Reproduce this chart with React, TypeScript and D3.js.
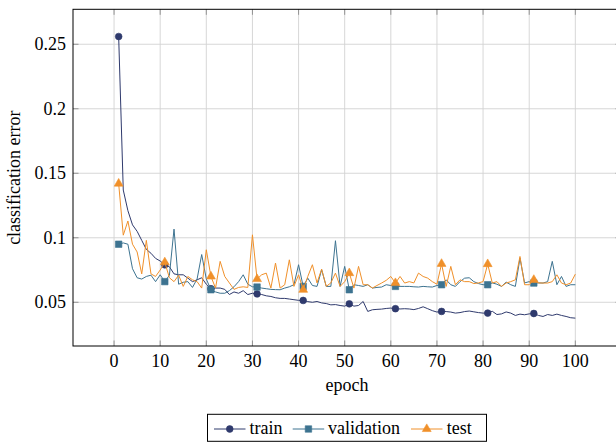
import React from 'react';
import * as d3 from 'd3';

const epochs = d3.range(1, 101);

const train = [
  0.256, 0.137, 0.121, 0.110, 0.105, 0.098, 0.091, 0.088, 0.084, 0.082,
  0.079, 0.0775, 0.072, 0.0713, 0.0713, 0.0687, 0.066, 0.0674, 0.069, 0.064,
  0.0605, 0.061, 0.061, 0.060, 0.056, 0.058, 0.057, 0.059, 0.056, 0.057,
  0.0565, 0.056, 0.055, 0.0545, 0.0535, 0.053, 0.053, 0.0525, 0.052, 0.0515,
  0.0514, 0.0505, 0.050, 0.0506, 0.0495, 0.049, 0.048, 0.0482, 0.0475, 0.047,
  0.0488, 0.047, 0.0475, 0.0506, 0.0429, 0.0442, 0.0445, 0.0447, 0.0452, 0.0455,
  0.045, 0.0448, 0.045, 0.0448, 0.0443, 0.0452, 0.0465, 0.045, 0.0435, 0.0424,
  0.0429, 0.0428, 0.0424, 0.0416, 0.042, 0.0428, 0.0432, 0.0426, 0.042, 0.0416,
  0.0416, 0.043, 0.0405, 0.041, 0.0425, 0.0416, 0.0398, 0.0408, 0.0403, 0.041,
  0.0413, 0.0398, 0.039, 0.0405, 0.0398, 0.0408, 0.0398, 0.039, 0.038, 0.0377,
];

const validation = [
  0.095, 0.096, 0.095, 0.076, 0.069, 0.068, 0.070, 0.071, 0.066, 0.0713,
  0.066, 0.071, 0.1067, 0.064, 0.0655, 0.066, 0.0615, 0.068, 0.087, 0.068,
  0.0597, 0.058, 0.057, 0.057, 0.059, 0.062, 0.066, 0.0713, 0.064, 0.062,
  0.0618, 0.061, 0.0605, 0.060, 0.0598, 0.0597, 0.061, 0.062, 0.0636, 0.0791,
  0.0623, 0.0687, 0.063, 0.0623, 0.0752, 0.0623, 0.0623, 0.0977, 0.0623, 0.0778,
  0.0597, 0.0636, 0.063, 0.0623, 0.0636, 0.061, 0.0615, 0.0618, 0.0636, 0.063,
  0.0623, 0.0623, 0.0623, 0.0623, 0.062, 0.0618, 0.0623, 0.062, 0.0618, 0.063,
  0.0636, 0.0674, 0.0636, 0.0623, 0.066, 0.0687, 0.069, 0.066, 0.0645, 0.0636,
  0.0636, 0.065, 0.064, 0.0623, 0.0656, 0.0636, 0.0623, 0.0842, 0.065, 0.066,
  0.0649, 0.065, 0.0649, 0.066, 0.0817, 0.0636, 0.070, 0.0623, 0.0636, 0.0636,
];

const test = [
  0.142, 0.102, 0.113, 0.095, 0.089, 0.072, 0.098, 0.072, 0.070, 0.075,
  0.081, 0.069, 0.066, 0.071, 0.0623, 0.070, 0.0674, 0.066, 0.061, 0.0907,
  0.070, 0.061, 0.0817, 0.070, 0.065, 0.060, 0.0615, 0.062, 0.0615, 0.1023,
  0.068, 0.0713, 0.0726, 0.061, 0.0804, 0.061, 0.0636, 0.0829, 0.0623, 0.0713,
  0.0597, 0.070, 0.0791, 0.065, 0.0757, 0.0623, 0.065, 0.0726, 0.0623, 0.066,
  0.0726, 0.061, 0.0778, 0.0636, 0.0636, 0.061, 0.063, 0.0649, 0.067, 0.070,
  0.0649, 0.070, 0.0649, 0.066, 0.065, 0.0726, 0.070, 0.0687, 0.066, 0.064,
  0.0798, 0.0623, 0.0778, 0.0636, 0.0674, 0.066, 0.066, 0.0645, 0.065, 0.066,
  0.0796, 0.0649, 0.066, 0.0623, 0.0649, 0.066, 0.0674, 0.0855, 0.0636, 0.0636,
  0.0674, 0.065, 0.0649, 0.0649, 0.066, 0.0713, 0.0649, 0.0636, 0.0649, 0.0718,
];

const xTicks = [0, 10, 20, 30, 40, 50, 60, 70, 80, 90, 100];
const yTicks = [0.05, 0.1, 0.15, 0.2, 0.25];
const yTickLabels = ['0.05', '0.1', '0.15', '0.2', '0.25'];
const seriesNames = ['train', 'validation', 'test'];

const COLORS = ['#2f3a6d', '#3d7390', '#f0902a'];
const FONT = 'Liberation Serif, DejaVu Serif, serif';

export default function App() {
  const W = 616, H = 443;
  const left = 73, right = 621, top = 9.3, bottom = 346;
  const x = d3.scaleLinear().domain([-8.9, 109.9]).range([left, right]);
  const y = d3.scaleLinear().domain([0.0161, 0.2771]).range([bottom, top]);

  const series = [train, validation, test];
  const symbols = [
    d3.symbol().type(d3.symbolCircle).size(36)(),
    d3.symbol().type(d3.symbolSquare).size(42)(),
    d3.symbol().type(d3.symbolTriangle).size(34)(),
  ];
  const line = d3.line<number>().x((_, i) => x(epochs[i])).y(d => y(d));

  const legendItems = [
    { lx: 214, tx: 249.5 },
    { lx: 292.7, tx: 328 },
    { lx: 411, tx: 446.8 },
  ];
  const legendY = 429;
  const fs = 18;
  const textStyle = { fontFamily: FONT, fontSize: fs } as React.CSSProperties;

  return (
    <div style={{ position: 'fixed', left: 0, top: 0 }}>
      <svg width={W} height={H} style={{ display: 'block', background: '#fff' }}>
        <rect x={0} y={0} width={W} height={H} fill="#fff" />
        {xTicks.map(t => (
          <line key={'gx' + t} x1={x(t)} x2={x(t)} y1={top} y2={bottom} stroke="#d2d2d2" strokeWidth={0.9} />
        ))}
        {yTicks.map(t => (
          <line key={'gy' + t} x1={left} x2={right} y1={y(t)} y2={y(t)} stroke="#d2d2d2" strokeWidth={0.9} />
        ))}
        {xTicks.map(t => (
          <g key={'tx' + t} stroke="#8a8a8a" strokeWidth={0.9}>
            <line x1={x(t)} x2={x(t)} y1={bottom} y2={bottom - 5.5} />
            <line x1={x(t)} x2={x(t)} y1={top} y2={top + 5.5} />
          </g>
        ))}
        {yTicks.map(t => (
          <g key={'ty' + t} stroke="#8a8a8a" strokeWidth={0.9}>
            <line x1={left} x2={left + 5.5} y1={y(t)} y2={y(t)} />
            <line x1={right} x2={right - 5.5} y1={y(t)} y2={y(t)} />
          </g>
        ))}
        {series.map((s, si) => (
          <g key={'s' + si}>
            <path d={line(s) || ''} fill="none" stroke={COLORS[si]} strokeWidth={1} strokeLinejoin="round" />
            {s.map((v, i) =>
              i % 10 === 0 ? (
                <path key={i} d={symbols[si] || ''} transform={`translate(${x(epochs[i])},${y(v)})`} fill={COLORS[si]} stroke={COLORS[si]} strokeWidth={0.6} />
              ) : null
            )}
          </g>
        ))}
        <rect x={left} y={top} width={right - left} height={bottom - top} fill="none" stroke="#000" strokeWidth={1} />
        {xTicks.map(t => (
          <text key={'lx' + t} x={x(t)} y={366.5} textAnchor="middle" style={textStyle} fill="#000">{t}</text>
        ))}
        {yTicks.map((t, i) => (
          <text key={'ly' + t} x={66} y={y(t)} dy="0.33em" textAnchor="end" style={textStyle} fill="#000">{yTickLabels[i]}</text>
        ))}
        <text x={(left + right) / 2} y={391} textAnchor="middle" style={textStyle} fill="#000">epoch</text>
        <text transform={`translate(20,${(top + bottom) / 2}) rotate(-90)`} textAnchor="middle" style={textStyle} fill="#000">classification error</text>
        <rect x={207.5} y={414.3} width={279} height={27} fill="#fff" stroke="#000" strokeWidth={1} />
        {legendItems.map((it, si) => (
          <g key={'leg' + si}>
            <line x1={it.lx} x2={it.lx + 31.5} y1={legendY} y2={legendY} stroke={COLORS[si]} strokeWidth={1} />
            <path d={symbols[si] || ''} transform={`translate(${it.lx + 15.75},${legendY})`} fill={COLORS[si]} stroke={COLORS[si]} strokeWidth={0.6} />
            <text x={it.tx} y={434.3} style={textStyle} fill="#000">{seriesNames[si]}</text>
          </g>
        ))}
      </svg>
    </div>
  );
}
